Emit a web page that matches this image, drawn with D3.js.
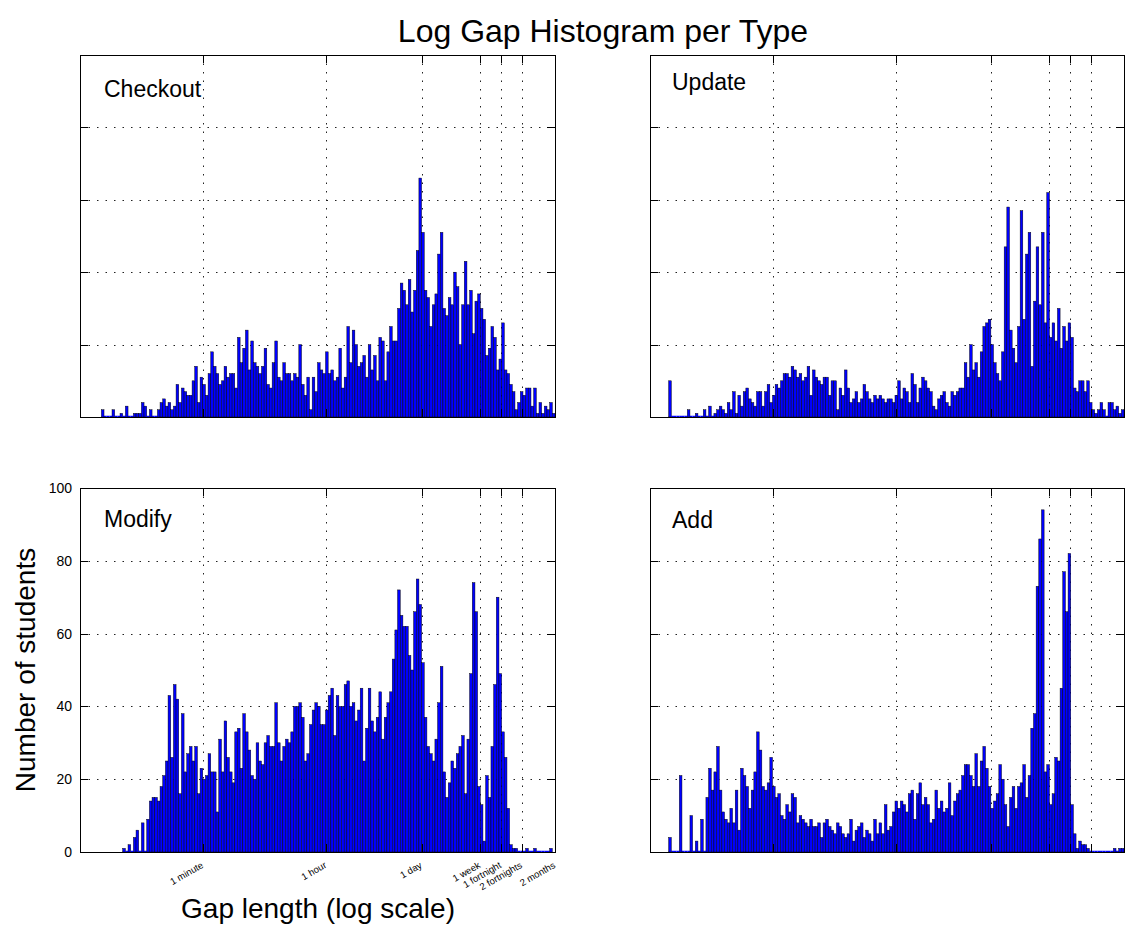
<!DOCTYPE html>
<html>
<head>
<meta charset="utf-8">
<script src="https://cdn.jsdelivr.net/npm/d3@7"></script>
<style>
body { margin: 0; background: #fff; }
svg { display: block; font-family: "Liberation Sans", Arial, Helvetica, sans-serif; }
</style>
</head>
<body>
<svg width="1131" height="936"></svg>
<script>
// counts per log-spaced bin (178 bins from 1 s to ~2 months)
var checkoutCounts = [
    0,0,0,0,0,0,0,0, 2,0,0,0,2,0,0,1, 0,3,0,0,1,1,1,4, 3,0,2,0,0,2,4,5,
    3,4,2,3,9,4,8,7, 6,6,10,14,4,11,9,6, 12,18,14,12,9,10,14,11, 12,12,8,22,15,19,24,13,
    21,15,14,12,14,19,9,8, 15,21,11,10,15,12,12,10, 12,11,20,9,6,11,2,11, 7,15,13,12,18,12,13,10,
    11,19,8,11,25,15,24,20, 14,15,17,11,20,13,17,10, 22,21,10,18,25,21,21,30, 37,35,31,38,29,35,46,66,
    51,35,33,25,31,34,45,51, 30,28,33,31,40,36,20,31, 43,31,35,23,32,34,30,27, 17,19,25,22,13,16,26,13,
    12,9,7,2,4,7,6,8, 8,3,8,1,4,1,3,2, 4,1
];
var updateCounts = [
    0,0,0,0,0,0,0,10, 0,0,0,0,0,0,2,0, 0,1,0,0,2,0,3,0, 1,2,3,2,1,4,2,7,
    1,6,3,7,8,5,4,3, 7,7,3,7,9,4,6,9, 8,10,12,12,11,14,13,11, 12,10,11,14,6,13,11,10,
    9,11,11,6,10,10,2,8, 6,13,8,4,5,7,4,5, 9,7,5,4,6,5,
    6,5,4,5,5,4,6,10,5,8, 7,4,12,9,4,8,11,10,8,7, 3,2,5,6,7,4,3,7,6,7,
    8,8,15,11,20,13,15,11,18,25, 26,27,20,15,12,10,18,
    47,58,24,19,15,25,57,27,45,51,14,32,47,31,51,26,62,
    22,26,21,30,19,25,21,26,22,8,7,10,10,7,10,4,2,1,2,4,2,0,4,4,2,3,1,2
];
var modifyCounts = [
    0,0,0,0,0,0,0,0, 0,0,0,0,0,0,0,0, 1,0,2,0,4,6,0,8, 0,9,14,15,15,14,18,21,
    25,43,26,46,42,16,38,22, 27,29,25,29,16,23,20,21, 27,22,22,11,31,22,36,26, 22,19,33,34,23,38,33,28,
    21,20,30,25,24,30,32,29, 29,41,30,25,29,31,30,33, 40,40,41,37,25,27,35,39, 41,40,35,35,39,43,45,32,
    43,40,40,46,47,40,41,36, 39,45,25,34,45,36,33,37, 44,31,37,41,44,53,61,72, 65,62,62,54,50,66,75,68,
    52,37,29,27,25,31,41,51, 22,15,19,25,23,27,29,32, 16,31,49,74,66,18,13,3, 21,15,29,46,70,49,33,26,
    12,2,1,1,0,0,0,1, 0,0,1,0,0,0,0,0, 1,0
];
var addCounts = [
    0,0,0,0,0,0,0,4, 0,0,0,21,0,0,0,10, 0,3,0,9,0,15,23,17, 22,29,17,11,9,8,12,8,
    17,6,23,21,18,12,17,22, 33,28,18,17,19,26,18,15, 16,10,9,13,11,16,15,8, 10,9,8,7,9,7,7,8,
    4,8,9,7,6,5,8,7, 5,4,5,9,3,6,7,8, 4,6,5,3,9,5,
    8,5,13,6,7,11,14,12,14,13, 11,16,17,9,16,19,13,15,13,8, 9,17,12,14,11,12,19,10,14,16,
    17,21,24,24,21,18,27,18,25,29, 23,18,12,14,16,24,20,13,7,15, 18,12,18,19,24,15,21,34,38,73,
    86,94,
    22,24,13,16,26,25,45,77,66,82,
    13,5,1,3,2,2,1,0,0,0, 0,0,0,0,0,0,1,0,1,1
];

var panelNames = ["Checkout", "Update", "Modify", "Add"];
var gapMin = 1;            // seconds
var gapMax = 7.3e6;        // seconds, right edge of the axis
var tickSeconds = [60, 3600, 86400, 604800, 1209600, 2419200, 7.3e6];
var tickLabels = ["1 minute", "1 hour", "1 day", "1 week", "1 fortnight", "2 fortnights", "2 months"];
var yTicks = [0, 20, 40, 60, 80, 100];
var yMax = 100;

var svg = d3.select("svg");

var layout = [
    { x0: 80,  x1: 555,  y0: 55,  y1: 417, lx: 104, ly: 97,  labels: false },
    { x0: 650, x1: 1124, y0: 55,  y1: 417, lx: 672, ly: 90,  labels: false },
    { x0: 80,  x1: 555,  y0: 488, y1: 852, lx: 104, ly: 527, labels: true },
    { x0: 650, x1: 1124, y0: 488, y1: 852, lx: 672, ly: 528, labels: false }
];
var allCounts = [checkoutCounts, updateCounts, modifyCounts, addCounts];

function drawPanel(p, counts, name, showTickLabels)
{
    var xs = d3.scaleLog().domain([gapMin, gapMax]).range([p.x0, p.x1]);
    var ys = d3.scaleLinear().domain([0, yMax]).range([p.y1, p.y0]);
    var g = svg.append("g");
    var nBins = counts.length;
    var step = Math.log10(gapMax / gapMin) / nBins;

    // grid (behind the bars)
    g.selectAll(".vgrid").data(tickSeconds).enter().append("line")
        .attr("x1", function (d) { return Math.round(xs(d)) + 0.5; })
        .attr("x2", function (d) { return Math.round(xs(d)) + 0.5; })
        .attr("y1", p.y0).attr("y2", p.y1)
        .style("stroke", "#222").style("stroke-dasharray", "1.5,7");
    g.selectAll(".hgrid").data(yTicks.slice(1, -1)).enter().append("line")
        .attr("x1", p.x0).attr("x2", p.x1)
        .attr("y1", function (d) { return Math.round(ys(d)) + 0.5; })
        .attr("y2", function (d) { return Math.round(ys(d)) + 0.5; })
        .style("stroke", "#222").style("stroke-dasharray", "1.5,7");

    var bins = counts.map(function (c, i) {
        return { i: i, lo: gapMin * Math.pow(10, i * step), hi: gapMin * Math.pow(10, (i + 1) * step), count: c };
    });
    var first = d3.min(bins.filter(function (d) { return d.count > 0; }), function (d) { return d.i; });
    var last = d3.max(bins.filter(function (d) { return d.count > 0; }), function (d) { return d.i; });

    // empty bins inside the data range show as a flat blue line on the baseline
    g.selectAll("line.empty").data(bins.filter(function (d) { return d.count === 0 && d.i > first && d.i < last; }))
        .enter().append("line")
        .attr("class", "empty")
        .attr("x1", function (d) { return xs(d.lo); })
        .attr("x2", function (d) { return xs(d.hi); })
        .attr("y1", ys(0) - 0.5).attr("y2", ys(0) - 0.5)
        .style("stroke", "#0000ff").style("stroke-width", 1.5);

    g.selectAll("rect.bar").data(bins.filter(function (d) { return d.count > 0; }))
        .enter().append("rect")
        .attr("class", "bar")
        .attr("x", function (d) { return xs(d.lo); })
        .attr("width", function (d) { return xs(d.hi) - xs(d.lo); })
        .attr("y", function (d) { return ys(d.count); })
        .attr("height", function (d) { return ys(0) - ys(d.count); })
        .style("fill", "#0000ff")
        .style("stroke", "#000")
        .style("stroke-width", 0.45);

    // ticks, inward on all four sides
    var tl = 8;
    tickSeconds.forEach(function (t) {
        var x = Math.round(xs(t)) + 0.5;
        g.append("line").attr("x1", x).attr("x2", x).attr("y1", p.y1).attr("y2", p.y1 - tl).style("stroke", "#000");
        g.append("line").attr("x1", x).attr("x2", x).attr("y1", p.y0).attr("y2", p.y0 + tl).style("stroke", "#000");
    });
    yTicks.forEach(function (t) {
        var y = Math.round(ys(t)) + 0.5;
        g.append("line").attr("x1", p.x0).attr("x2", p.x0 + tl).attr("y1", y).attr("y2", y).style("stroke", "#000");
        g.append("line").attr("x1", p.x1).attr("x2", p.x1 - tl).attr("y1", y).attr("y2", y).style("stroke", "#000");
    });

    g.append("rect")
        .attr("x", p.x0 + 0.5).attr("y", p.y0 + 0.5)
        .attr("width", p.x1 - p.x0).attr("height", p.y1 - p.y0)
        .style("fill", "none").style("stroke", "#000");

    g.append("text").attr("x", p.lx).attr("y", p.ly)
        .style("font-size", "23px").text(name);

    if (showTickLabels) {
        g.selectAll(".ylab").data(yTicks).enter().append("text")
            .attr("x", p.x0 - 8)
            .attr("y", function (d) { return ys(d) + 5; })
            .attr("text-anchor", "end")
            .style("font-size", "14px")
            .text(function (d) { return d; });
        g.selectAll(".xlab").data(tickSeconds).enter().append("text")
            .attr("transform", function (d) { return "translate(" + (xs(d) + 1) + "," + (p.y1 + 15) + ") rotate(-30)"; })
            .attr("text-anchor", "end")
            .style("font-size", "9.5px")
            .text(function (d, i) { return tickLabels[i]; });
    }
}

for (var i = 0; i < 4; i++) {
    drawPanel(layout[i], allCounts[i], panelNames[i], layout[i].labels);
}

svg.append("text").attr("x", 603).attr("y", 42)
    .attr("text-anchor", "middle").style("font-size", "32px")
    .text("Log Gap Histogram per Type");
svg.append("text").attr("x", 318).attr("y", 918)
    .attr("text-anchor", "middle").style("font-size", "28px")
    .text("Gap length (log scale)");
svg.append("text").attr("transform", "translate(35,670) rotate(-90)")
    .attr("text-anchor", "middle").style("font-size", "28px")
    .text("Number of students");
</script>
</body>
</html>
